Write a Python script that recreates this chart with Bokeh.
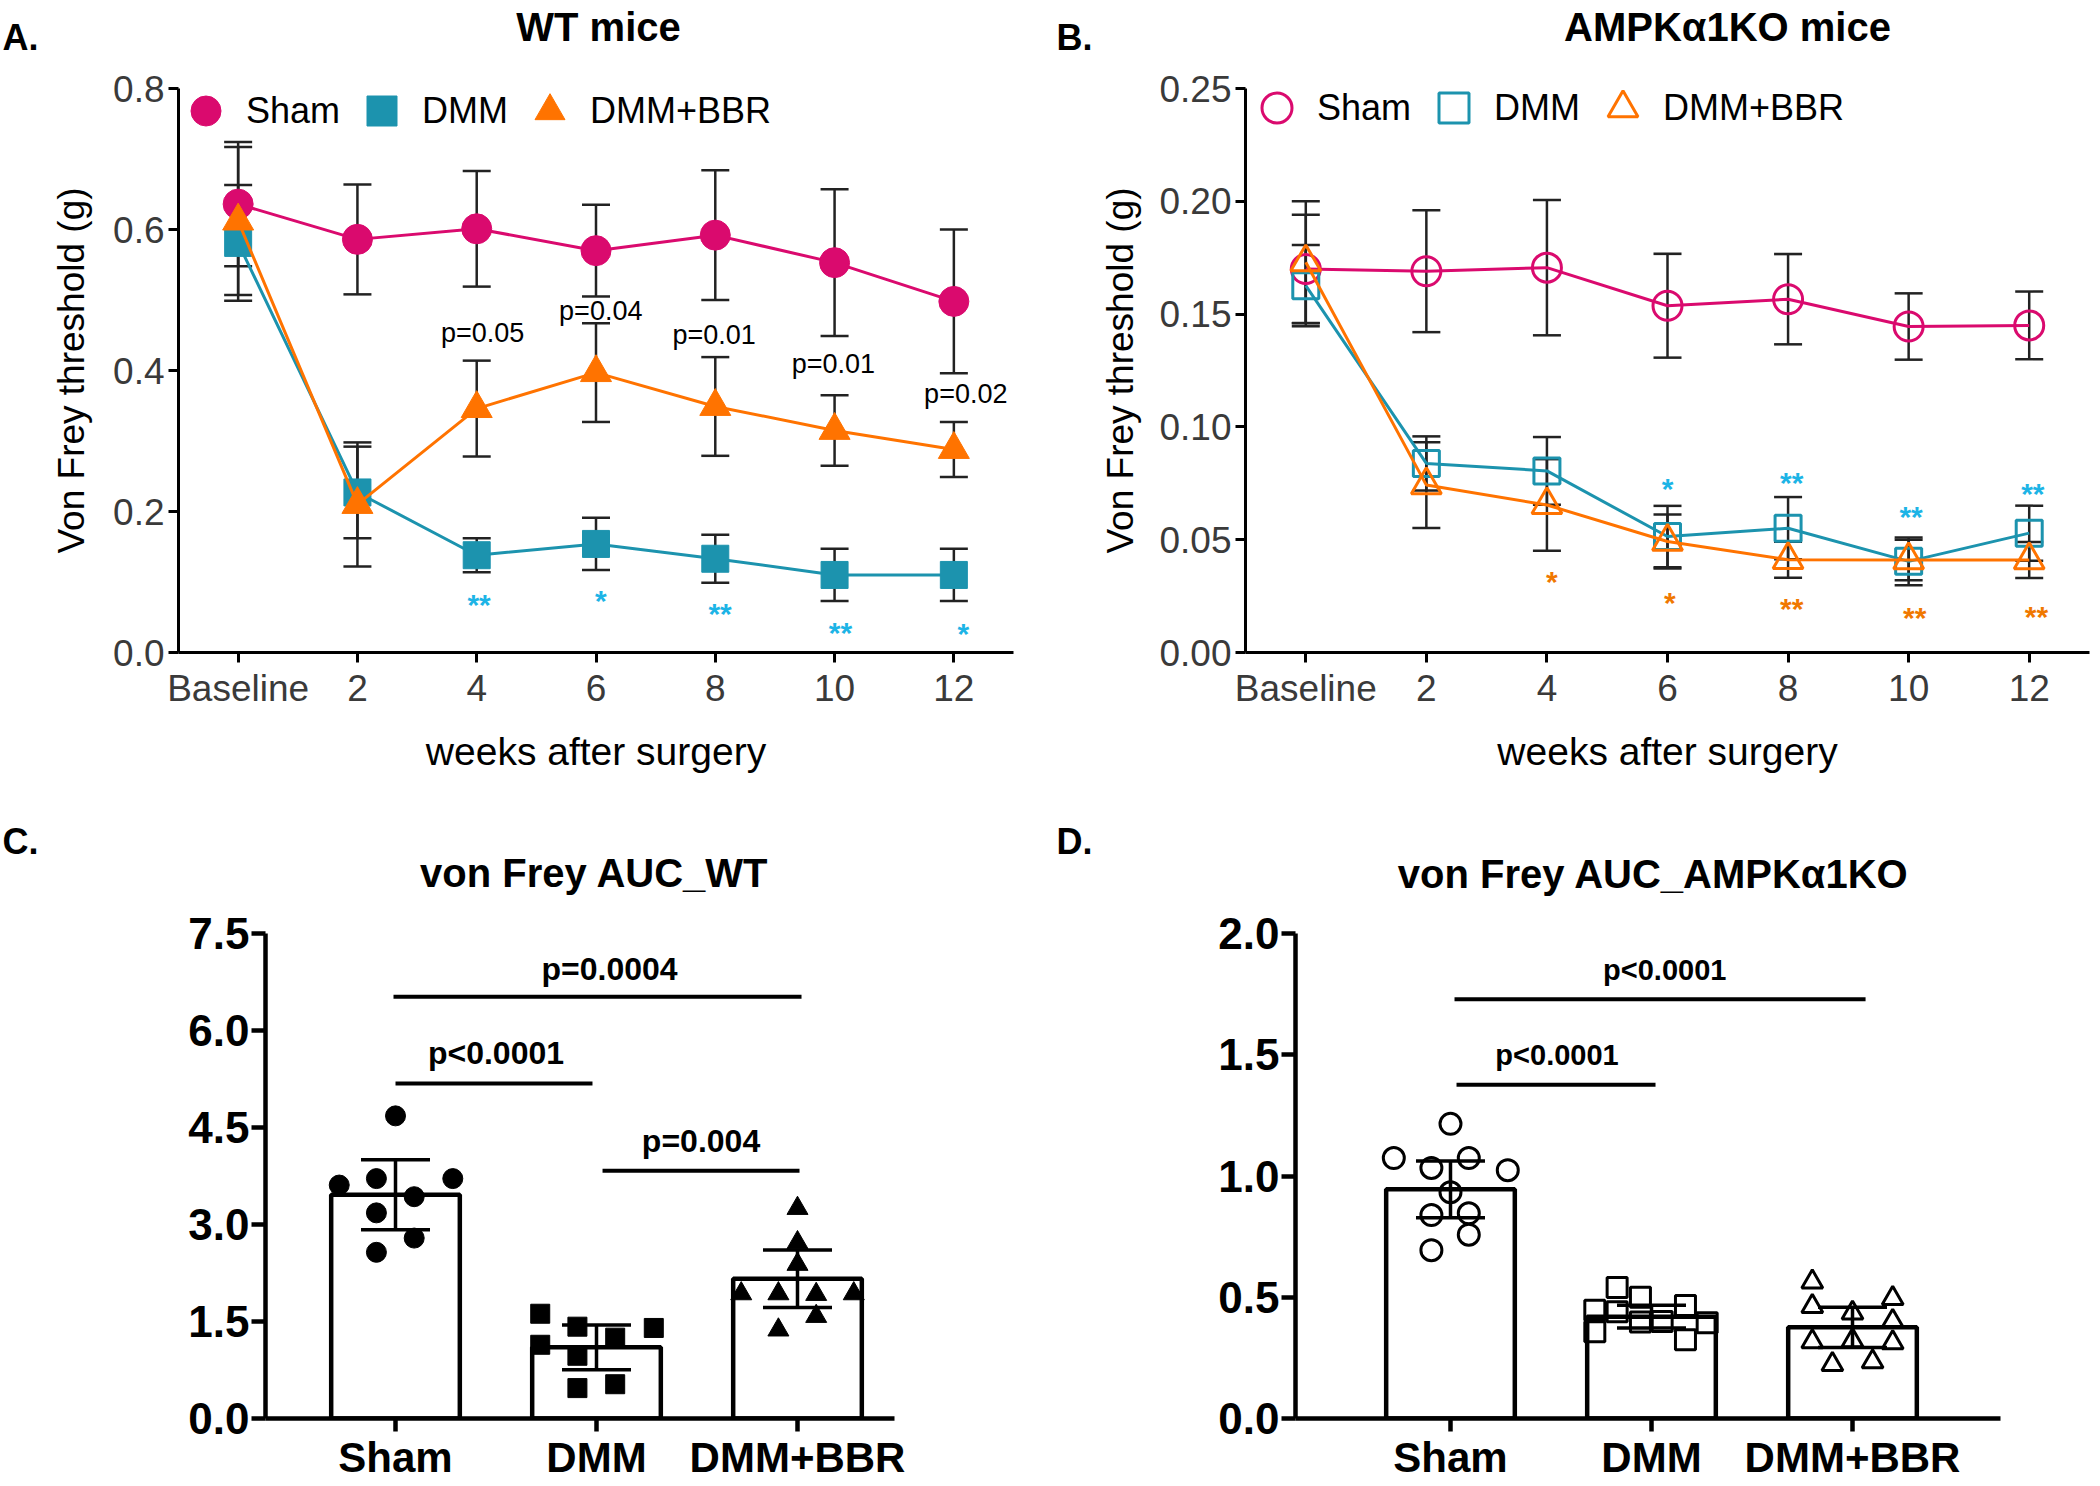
from bokeh.plotting import figure
from bokeh.models import (ColumnDataSource, Whisker, TeeHead, Legend, LegendItem,
                          FixedTicker, NumeralTickFormatter, Range1d)
from bokeh.layouts import column, row
from bokeh.embed import file_html
from bokeh.resources import INLINE
from bokeh.core.properties import value

FONT = "Liberation Sans"

# ---------------- data ----------------
weeks = ["Baseline", "2", "4", "6", "8", "10", "12"]
groups = ["Sham", "DMM", "DMM+BBR"]

# Panel A: WT mice, von Frey threshold (g), mean and SEM
wt_sham = [0.636, 0.586, 0.601, 0.570, 0.592, 0.553, 0.498]
wt_sham_sem = [0.088, 0.078, 0.082, 0.065, 0.092, 0.104, 0.102]
wt_dmm = [0.581, 0.227, 0.138, 0.154, 0.133, 0.110, 0.110]
wt_dmm_sem = [0.082, 0.065, 0.024, 0.037, 0.034, 0.037, 0.037]
wt_bbr = [0.612, 0.210, 0.346, 0.397, 0.349, 0.315, 0.288]
wt_bbr_sem = [0.105, 0.088, 0.068, 0.070, 0.070, 0.050, 0.039]

wt_p_text = ["p=0.05", "p=0.04", "p=0.01", "p=0.01", "p=0.02"]
wt_p_x = [2.05, 3.04, 3.99, 4.99, 6.10]
wt_p_y = [0.453, 0.485, 0.451, 0.409, 0.366]
wt_star_text = ["**", "*", "**", "**", "*"]
wt_star_x = [2.02, 3.04, 4.04, 5.05, 6.08]
wt_star_y = [0.078, 0.083, 0.065, 0.038, 0.037]

# Panel B: AMPKa1KO mice
ko_sham = [0.170, 0.169, 0.1706, 0.1537, 0.1566, 0.1445, 0.145]
ko_sham_sem = [0.024, 0.027, 0.030, 0.023, 0.020, 0.0147, 0.015]
ko_dmm = [0.1626, 0.0838, 0.0805, 0.0514, 0.0551, 0.0404, 0.0529]
ko_dmm_sem = [0.018, 0.012, 0.015, 0.0136, 0.0138, 0.0106, 0.0122]
ko_bbr = [0.173, 0.0742, 0.0654, 0.0492, 0.0411, 0.041, 0.041]
ko_bbr_sem = [0.027, 0.019, 0.0203, 0.012, 0.008, 0.009, 0.008]

ko_star_dmm_text = ["*", "**", "**", "**"]
ko_star_dmm_x = [3.00, 4.03, 5.02, 6.03]
ko_star_dmm_y = [0.0757, 0.0786, 0.0632, 0.0735]
ko_star_bbr_text = ["*", "*", "**", "**", "**"]
ko_star_bbr_x = [2.04, 3.02, 4.03, 5.05, 6.06]
ko_star_bbr_y = [0.0345, 0.0253, 0.0228, 0.0184, 0.0191]

# Panel C: AUC WT
auc_wt_mean = [3.46, 1.10, 2.16]
auc_wt_sd = [0.54, 0.347, 0.445]
auc_wt_sham = [4.68, 3.61, 3.71, 3.71, 3.43, 3.18, 2.79, 2.57]
auc_wt_sham_dx = [0.0, -0.28, -0.095, 0.285, 0.093, -0.095, 0.093, -0.095]
auc_wt_dmm = [1.62, 1.42, 1.40, 1.25, 1.14, 0.97, 0.47, 0.53]
auc_wt_dmm_dx = [-0.28, -0.095, 0.285, 0.093, -0.28, -0.095, -0.095, 0.093]
auc_wt_bbr = [3.25, 2.72, 2.385, 1.93, 1.93, 1.92, 1.93, 1.58, 1.37]
auc_wt_bbr_dx = [0.0, 0.0, 0.0, -0.28, -0.095, 0.093, 0.28, 0.093, -0.095]

sig_wt_text = ["p=0.0004", "p<0.0001", "p=0.004"]
sig_wt_x0 = [0.99, 1.00, 2.03]
sig_wt_x1 = [3.02, 1.98, 3.01]
sig_wt_y = [6.52, 5.18, 3.83]
sig_wt_tx = [2.065, 1.50, 2.52]
sig_wt_ty = [6.95, 5.65, 4.29]

# Panel D: AUC AMPKa1KO
auc_ko_mean = [0.945, 0.420, 0.376]
auc_ko_sd = [0.117, 0.047, 0.083]
auc_ko_sham = [1.215, 1.074, 1.074, 1.033, 1.024, 0.933, 0.839, 0.846, 0.758, 0.694]
auc_ko_sham_dx = [0.0, -0.282, 0.091, -0.095, 0.285, 0.0, -0.095, 0.091, 0.091, -0.095]
auc_ko_dmm = [0.540, 0.500, 0.466, 0.446, 0.440, 0.398, 0.400, 0.395, 0.358, 0.325]
auc_ko_dmm_dx = [-0.171, -0.055, 0.169, -0.282, -0.171, -0.055, 0.053, 0.277, -0.282, 0.169]
auc_ko_bbr = [0.563, 0.462, 0.435, 0.317, 0.321, 0.223, 0.234, 0.495, 0.401, 0.313]
auc_ko_bbr_dx = [-0.2, -0.2, 0.0, -0.2, 0.0, -0.1, 0.1, 0.2, 0.2, 0.2]

sig_ko_text = ["p<0.0001", "p<0.0001"]
sig_ko_x0 = [1.02, 1.03]
sig_ko_x1 = [3.065, 2.02]
sig_ko_y = [1.729, 1.376]
sig_ko_tx = [2.066, 1.53]
sig_ko_ty = [1.85, 1.50]

# panel headings
top_titles = ["WT mice", "AMPK\u03b11KO mice"]
top_letters = ["A.", "B."]
mid_titles = ["von Frey AUC_WT", "von Frey AUC_AMPK\u03b11KO"]
mid_letters = ["C.", "D."]

# ---------------- colours ----------------
MAGENTA = "#DA0A6E"
TEAL = "#1C93AE"
ORANGE = "#FF7300"
CYAN_STAR = "#1DB4E6"
ORANGE_STAR = "#F07800"
ERR = "#222222"


def base_fig(width, height, xr, yr, left, right, top, bottom):
    p = figure(width=width, height=height, x_range=Range1d(*xr), y_range=Range1d(*yr),
               output_backend="svg", toolbar_location=None,
               min_border_left=left, min_border_right=right,
               min_border_top=top, min_border_bottom=bottom)
    p.xgrid.visible = False
    p.ygrid.visible = False
    p.outline_line_color = None
    p.background_fill_color = "white"
    p.border_fill_color = "white"
    return p


def header_fig(height, letters, letter_x, letter_y, titles, title_x, title_y):
    h = figure(width=2100, height=height, x_range=Range1d(0, 2100), y_range=Range1d(height, 0),
               output_backend="svg", toolbar_location=None, x_axis_type=None, y_axis_type=None,
               min_border=0)
    h.xgrid.visible = False
    h.ygrid.visible = False
    h.outline_line_color = None
    h.text(x=letter_x, y=letter_y, text=letters, text_font=value(FONT),
           text_font_size=value("36px"), text_font_style="bold", text_color="black",
           text_align="left", text_baseline="middle")
    h.text(x=title_x, y=title_y, text=titles, text_font=value(FONT),
           text_font_size=value("40px"), text_font_style="bold", text_color="black",
           text_align="center", text_baseline="middle")
    return h


def style_axes(p, size, color, bold, lw, tick_out):
    for ax in p.axis:
        ax.axis_line_color = "black"
        ax.axis_line_width = lw
        ax.major_tick_line_color = "black"
        ax.major_tick_line_width = lw
        ax.major_tick_out = tick_out
        ax.major_tick_in = 0
        ax.minor_tick_line_color = None
        ax.major_label_text_font = FONT
        ax.major_label_text_font_size = size
        ax.major_label_text_color = color
        ax.major_label_text_font_style = "bold" if bold else "normal"
        ax.axis_label_text_font = FONT
        ax.axis_label_text_font_style = "normal"
        ax.axis_label_text_color = "black"


def time_course(p, sham, sham_e, dmm, dmm_e, bbr, bbr_e, open_markers):
    xs = list(range(len(weeks)))
    series = [(sham, sham_e, MAGENTA, "circle", 30), (dmm, dmm_e, TEAL, "square", 27),
              (bbr, bbr_e, ORANGE, "triangle", 31)]
    rends = []
    for vals, errs, col, mk, sz in series:
        src = ColumnDataSource(dict(x=xs, y=vals,
                                    up=[v + e for v, e in zip(vals, errs)],
                                    lo=[v - e for v, e in zip(vals, errs)]))
        p.add_layout(Whisker(source=src, base="x", upper="up", lower="lo",
                             line_color=ERR, line_width=2.5,
                             upper_head=TeeHead(size=28, line_color=ERR, line_width=2.5),
                             lower_head=TeeHead(size=28, line_color=ERR, line_width=2.5)))
        p.line("x", "y", source=src, line_color=col, line_width=3)
        if open_markers:
            r = p.scatter("x", "y", source=src, marker=mk, size=sz - 1, fill_color=None,
                          line_color=col, line_width=3)
        else:
            r = p.scatter("x", "y", source=src, marker=mk, size=sz, fill_color=col,
                          line_color=col, line_width=1)
        rends.append(r)
    return rends


def time_axes(p, fmt, ticks):
    p.xaxis.ticker = FixedTicker(ticks=list(range(len(weeks))))
    p.xaxis.major_label_overrides = {i: w for i, w in enumerate(weeks)}
    p.yaxis.ticker = FixedTicker(ticks=ticks)
    p.yaxis.formatter = NumeralTickFormatter(format=fmt)
    style_axes(p, "37px", "#3a3a3a", False, 3, 10)
    p.xaxis.axis_label = "weeks after surgery"
    p.yaxis.axis_label = "Von Frey threshold (g)"
    p.xaxis.axis_label_text_font_size = "39px"
    p.yaxis.axis_label_text_font_size = "37px"
    p.xaxis.major_label_standoff = 5
    p.yaxis.major_label_standoff = 4
    p.xaxis.axis_label_standoff = 18
    p.yaxis.axis_label_standoff = 18


def legend(p, rends, loc, spacing):
    leg = Legend(items=[LegendItem(label=g, renderers=[r]) for g, r in zip(groups, rends)],
                 orientation="horizontal", location=loc, glyph_width=75, glyph_height=75,
                 label_standoff=3, spacing=spacing, padding=0, margin=0,
                 border_line_color=None, background_fill_alpha=0,
                 label_text_font=FONT, label_text_font_size="36px", label_text_color="black")
    p.add_layout(leg)


def stars(p, xs, ys, txt, color):
    src = ColumnDataSource(dict(x=xs, y=ys, t=txt))
    p.text("x", "y", text="t", source=src, text_font=value(FONT), text_font_size=value("30px"),
           text_font_style="bold", text_color=color, text_align="center",
           text_baseline="middle", y_offset=7)


# ---------------- headers ----------------
hTop = header_fig(60, top_letters, [2, 1056], [37, 37], top_titles, [598, 1727], [26, 26])
hMid = header_fig(100, mid_letters, [2, 1056], [41, 41], mid_titles, [594, 1653], [72, 73])

# ---------------- Panel A ----------------
pA = base_fig(1050, 740, (-0.5, 6.5), (0, 0.8), 178, 37, 28, 148)
rA = time_course(pA, wt_sham, wt_sham_sem, wt_dmm, wt_dmm_sem, wt_bbr, wt_bbr_sem, False)
time_axes(pA, "0.0", [0, 0.2, 0.4, 0.6, 0.8])
legend(pA, rA, (-10, 504), 4)
psrc = ColumnDataSource(dict(x=wt_p_x, y=wt_p_y, t=wt_p_text))
pA.text("x", "y", text="t", source=psrc, text_font=value(FONT), text_font_size=value("27px"),
        text_color="black", text_align="center", text_baseline="middle")
stars(pA, wt_star_x, wt_star_y, wt_star_text, CYAN_STAR)

# ---------------- Panel B ----------------
pB = base_fig(1050, 740, (-0.5, 6.5), (0, 0.25), 195, 11, 28, 145)
rB = time_course(pB, ko_sham, ko_sham_sem, ko_dmm, ko_dmm_sem, ko_bbr, ko_bbr_sem, True)
time_axes(pB, "0.00", [0, 0.05, 0.10, 0.15, 0.20, 0.25])
pB.yaxis.axis_label_standoff = 15
legend(pB, rB, (-6, 507), 5)
stars(pB, ko_star_dmm_x, ko_star_dmm_y, ko_star_dmm_text, CYAN_STAR)
stars(pB, ko_star_bbr_x, ko_star_bbr_y, ko_star_bbr_text, ORANGE_STAR)


# ---------------- AUC panels ----------------
def auc_panel(p, means, sds, pts, dxs, markers, sizes, filled, sig, sig_font):
    xs = [1, 2, 3]
    p.vbar(x=xs, top=means, width=0.64, fill_color="white", line_color="black", line_width=4.5)
    for i, (vals, dx, mk, sz) in enumerate(zip(pts, dxs, markers, sizes)):
        src = ColumnDataSource(dict(x=[xs[i] + d for d in dx], y=vals))
        if filled:
            p.scatter("x", "y", source=src, marker=mk, size=sz, fill_color="black",
                      line_color="black")
        else:
            p.scatter("x", "y", source=src, marker=mk, size=sz, fill_color=None,
                      line_color="black", line_width=3)
    wsrc = ColumnDataSource(dict(x=xs, up=[m + s for m, s in zip(means, sds)],
                                 lo=[m - s for m, s in zip(means, sds)]))
    p.add_layout(Whisker(source=wsrc, base="x", upper="up", lower="lo", level="overlay",
                         line_color="black", line_width=3.5,
                         upper_head=TeeHead(size=69, line_color="black", line_width=3.5),
                         lower_head=TeeHead(size=69, line_color="black", line_width=3.5)))
    text, x0, x1, y, tx, ty = sig
    p.segment(x0=x0, y0=y, x1=x1, y1=y, line_color="black", line_width=4)
    ssrc = ColumnDataSource(dict(x=tx, y=ty, t=text))
    p.text("x", "y", text="t", source=ssrc, text_font=value(FONT), text_font_size=value(sig_font),
           text_font_style="bold", text_color="black", text_align="center", text_baseline="middle")
    p.xaxis.ticker = FixedTicker(ticks=xs)
    p.xaxis.major_label_overrides = {i + 1: g for i, g in enumerate(groups)}
    style_axes(p, "44px", "black", True, 4.5, 14)
    p.xaxis.major_label_text_font_size = "42px"
    p.xaxis.major_tick_out = 13
    p.xaxis.major_label_standoff = 2
    p.yaxis.major_label_standoff = 2


pC = base_fig(1050, 586, (0.3532, 3.4826), (0, 7.5), 265, 156, 29, 68)
auc_panel(pC, auc_wt_mean, auc_wt_sd, [auc_wt_sham, auc_wt_dmm, auc_wt_bbr],
          [auc_wt_sham_dx, auc_wt_dmm_dx, auc_wt_bbr_dx], ["circle", "square", "triangle"],
          [20, 19, 21], True,
          (sig_wt_text, sig_wt_x0, sig_wt_x1, sig_wt_y, sig_wt_tx, sig_wt_ty), "32px")
pC.yaxis.ticker = FixedTicker(ticks=[0, 1.5, 3.0, 4.5, 6.0, 7.5])
pC.yaxis.formatter = NumeralTickFormatter(format="0.0")

pD = base_fig(1050, 586, (0.2289, 3.7363), (0, 2.0), 245, 100, 33, 68)
auc_panel(pD, auc_ko_mean, auc_ko_sd, [auc_ko_sham, auc_ko_dmm, auc_ko_bbr],
          [auc_ko_sham_dx, auc_ko_dmm_dx, auc_ko_bbr_dx], ["circle", "square", "triangle"],
          [21, 20, 21], False,
          (sig_ko_text, sig_ko_x0, sig_ko_x1, sig_ko_y, sig_ko_tx, sig_ko_ty), "29px")
pD.yaxis.ticker = FixedTicker(ticks=[0, 0.5, 1.0, 1.5, 2.0])
pD.yaxis.formatter = NumeralTickFormatter(format="0.0")

layout = column(hTop, row(pA, pB), hMid, row(pC, pD))
open("out.html", "w").write(file_html(layout, INLINE))
